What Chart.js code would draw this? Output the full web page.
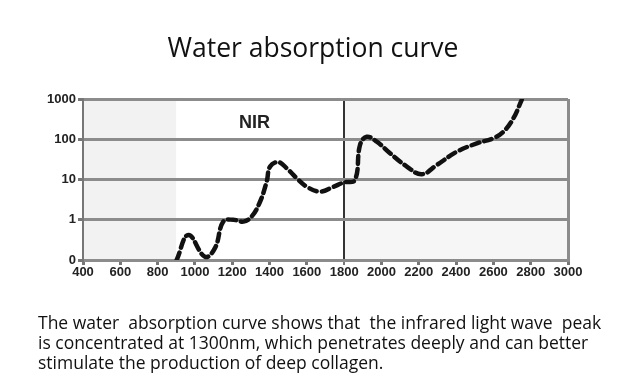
<!DOCTYPE html>
<html>
<head>
<meta charset="utf-8">
<script src="https://cdn.jsdelivr.net/npm/chart.js@4/dist/chart.umd.min.js"></script>
<style>
  html, body { margin: 0; padding: 0; background: #fff; }
  body { width: 626px; height: 392px; position: relative; overflow: hidden; }
  #title { position: absolute; left: 0; width: 626px; top: 29px; text-align: center;
    font-family: "Open Sans", "Noto Sans", sans-serif; font-size: 26.5px; line-height: 36px; color: #111; }
  #caption { position: absolute; left: 38px; top: 312px; width: 588px; white-space: nowrap;
    font-family: "Open Sans", "Noto Sans", sans-serif; font-size: 17.5px; line-height: 20px; color: #111; }
  #wrap { position: absolute; left: 0; top: 0; width: 626px; height: 392px; }
</style>
</head>
<body>
<div id="wrap"><canvas id="c" width="626" height="392"></canvas></div>
<div id="title">Water absorption curve</div>
<div id="caption">The water&nbsp; absorption curve shows that&nbsp; the infrared light wave&nbsp; peak<br>is concentrated at 1300nm, which penetrates deeply and can better<br>stimulate the production of deep collagen.</div>
<script>
const wavelengths = [902, 965, 1054, 1108, 1152, 1206, 1260, 1304, 1349, 1385, 1403, 1447, 1492, 1546, 1600, 1671, 1742, 1800, 1858, 1885, 1921, 1975, 2046, 2136, 2216, 2297, 2404, 2511, 2600, 2654, 2707, 2752];
const absorption  = [0.1, 0.42, 0.12, 0.2, 0.9, 1.0, 0.9, 1.2, 2.8, 9, 21, 27, 19, 10.7, 6.6, 5, 6.6, 8.5, 9.8, 72, 115, 87, 45, 21, 13.5, 23, 49, 79, 106, 154, 330, 950];
const yTicks = [0.1, 1, 10, 100, 1000];
const yTickLabels = ["0", "1", "10", "100", "1000"];
const regionBounds = [400, 900, 1800, 3000];
const regionLabel = "NIR";

const bgPlugin = {
  id: 'bg',
  beforeDraw(chart) {
    const {ctx, chartArea, scales} = chart;
    const cols = ['#f2f2f2', '#ffffff', '#f6f6f6'];
    ctx.save();
    for (let i = 0; i < regionBounds.length - 1; i++) {
      const x0 = scales.x.getPixelForValue(regionBounds[i]);
      const x1 = scales.x.getPixelForValue(regionBounds[i + 1]);
      ctx.fillStyle = cols[i];
      ctx.fillRect(x0, chartArea.top, x1 - x0, chartArea.bottom - chartArea.top);
    }
    ctx.restore();
  },
  afterDatasetsDraw(chart) {
    const {ctx, scales} = chart;
    ctx.save();
    ctx.font = 'bold 18px "Liberation Sans", Arial, sans-serif';
    ctx.fillStyle = '#222';
    ctx.textAlign = 'center';
    ctx.textBaseline = 'middle';
    ctx.fillText(regionLabel, scales.x.getPixelForValue(1320), scales.y.getPixelForValue(250));
    ctx.restore();
  }
};

new Chart(document.getElementById('c'), {
  type: 'line',
  data: {
    datasets: [{
      data: wavelengths.map((w, i) => ({x: w, y: absorption[i]})),
      borderColor: '#111',
      borderWidth: 4.5,
      borderDash: [8, 5],
      borderCapStyle: 'round',
      pointRadius: 0,
      tension: 0.4,
      fill: false
    }]
  },
  options: {
    responsive: false,
    animation: false,
    layout: { padding: { left: 0, top: 99, right: 58, bottom: 0 } },
    plugins: { legend: { display: false }, tooltip: { enabled: false }, title: { display: false } },
    scales: {
      x: {
        type: 'linear', min: 400, max: 3000,
        afterFit(s) { s.height = 132; },
        ticks: { stepSize: 200, color: '#222', padding: 0,
          callback: (v) => String(v),
          font: { family: '"Liberation Sans", Arial, sans-serif', size: 13, weight: 'bold' } },
        grid: {
          drawOnChartArea: true,
          tickLength: 5,
          tickColor: '#777',
          lineWidth: (c) => c.tick && c.tick.value === 1800 ? 2 : 3,
          color: (c) => {
            if (!c.tick) return 'rgba(0,0,0,0)';
            if (c.tick.value === 1800) return '#333';
            if (c.tick.value === 3000) return '#8c8c8c';
            return 'rgba(0,0,0,0)';
          }
        },
        border: { color: '#8c8c8c', width: 3 }
      },
      y: {
        type: 'logarithmic', min: 0.1, max: 1000,
        afterFit(s) { s.width = 83; },
        afterBuildTicks(s) { s.ticks = yTicks.map(v => ({value: v})); },
        ticks: { color: '#222', padding: 2,
          callback: (v) => { const i = yTicks.indexOf(v); return i >= 0 ? yTickLabels[i] : ''; },
          font: { family: '"Liberation Sans", Arial, sans-serif', size: 13, weight: 'bold' } },
        grid: { color: '#8c8c8c', lineWidth: 3, tickLength: 5, tickColor: '#777' },
        border: { color: '#777', width: 2 }
      }
    }
  },
  plugins: [bgPlugin]
});
</script>
</body>
</html>
